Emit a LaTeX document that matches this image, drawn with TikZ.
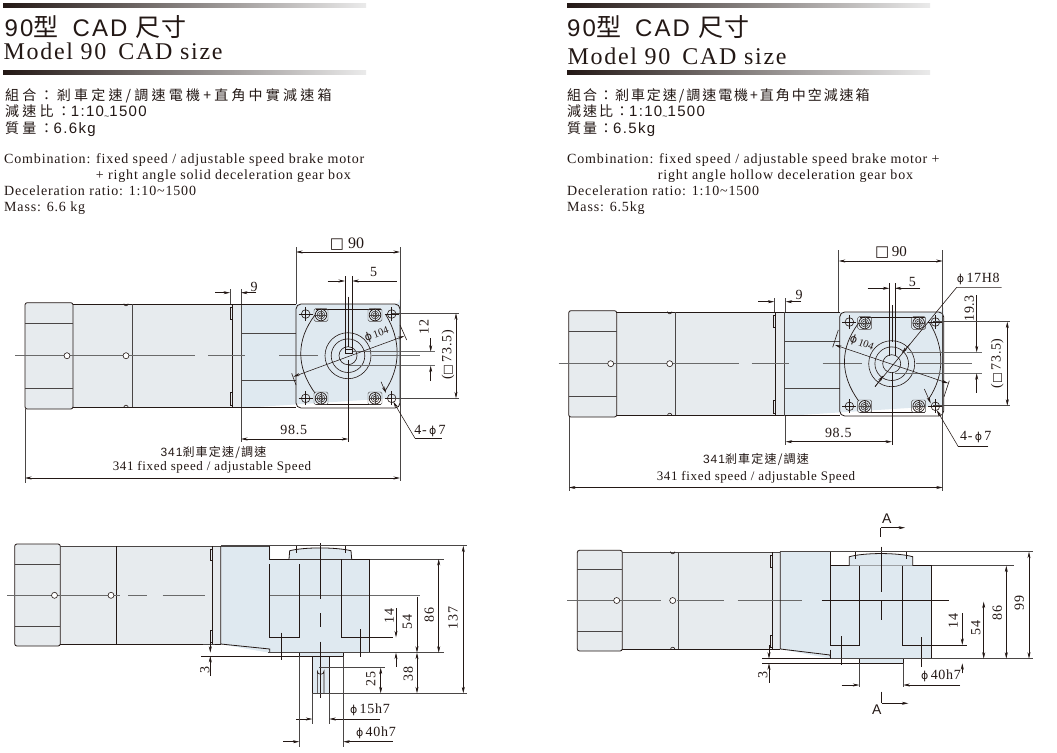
\documentclass[tikz,border=0pt]{standalone}
\usepackage{fontspec}
\usetikzlibrary{arrows.meta}
\setmainfont{Liberation Serif}
\newfontfamily\sansf{Liberation Sans}
\newfontfamily\cjkf{Noto Sans CJK TC}
\newfontfamily\symf{DejaVu Sans}
\definecolor{ink}{HTML}{231815}
\definecolor{motorfill}{HTML}{E7EBEE}
\definecolor{gearfill}{HTML}{DFE9F0}
\definecolor{cline}{HTML}{6A6A6A}
\definecolor{dline}{HTML}{4A4645}
\newcommand{\ph}{{\symf\fontsize{11}{11}\selectfont ϕ}}
\newcommand{\sq}{{\symf\fontsize{15}{15}\selectfont □}}
\newcommand{\sqs}{{\symf\fontsize{11.5}{11.5}\selectfont □}}
\newcommand{\dg}[1]{{\sansf\fontsize{15}{15}\selectfont\addfontfeature{LetterSpace=9}#1}}
\newcommand{\cjka}[2]{{\cjkf\fontsize{14}{14}\selectfont\addfontfeature{LetterSpace=#1}#2}}
\newcommand{\tildel}{\raisebox{-3pt}{\sansf\fontsize{9}{9}\selectfont\textasciitilde}}
\newcommand{\titleline}{{\sansf\addfontfeature{LetterSpace=9}90}{\cjkf\fontsize{25}{25}\selectfont 型}\hspace{14pt}{\sansf\addfontfeature{LetterSpace=9}CAD}\hspace{8pt}{\cjkf\fontsize{25}{25}\selectfont\addfontfeature{LetterSpace=5}尺寸}}
\tikzset{
  >={Stealth[length=6.5pt,width=3pt]},
  part/.style={draw=ink,line width=0.8pt},
  heavy/.style={draw=dline,line width=1pt},
  thinl/.style={draw=ink,line width=0.6pt},
  centerl/.style={draw=cline,line width=0.8pt},
  extl/.style={draw=dline,line width=0.55pt},
  dimb/.style={draw=ink,line width=0.55pt,<->},
  dims/.style={draw=ink,line width=0.55pt,->},
  dlab/.style={inner sep=0pt,text=ink,font=\fontsize{14}{14}\selectfont\addfontfeature{LetterSpace=5}},
  dlabv/.style={dlab,rotate=90},
  titlea/.style={anchor=base west,inner sep=0pt,text=ink,font=\fontsize{24}{24}\selectfont},
  titleb/.style={anchor=base west,inner sep=0pt,text=ink,font=\fontsize{24}{24}\selectfont\addfontfeature{LetterSpace=7}},
  cjkl/.style={anchor=base west,inner sep=0pt,text=ink},
  enl/.style={anchor=base west,inner sep=0pt,text=ink,font=\fontsize{14}{14}\selectfont\addfontfeature{LetterSpace=6}},
  dual/.style={inner sep=0pt,text=ink},
}
\newcommand{\hdrbar}[3]{\shade[left color=ink,middle color=black!50,right color=black!8] (#1,#2) rectangle (#3,#2+3.6);}
\newcommand{\holept}[2]{\draw[thinl] (#1,#2) circle[radius=4.3];
  \draw[thinl] (#1-7,#2)--(#1+7,#2) (#1,#2-7)--(#1,#2+7);}
\newcommand{\screwpt}[2]{\draw[extl,line width=0.45pt,rounded corners=1.5pt] (#1-7,#2-6.3) rectangle (#1+7,#2+6.3);
  \draw[thinl,line width=0.7pt] (#1,#2) circle[radius=5.8];
  \draw[thinl,line width=0.5pt] (#1,#2) circle[radius=3.9] (#1,#2) circle[radius=2.1];
  \draw[extl,line width=0.35pt] (#1-6,#2)--(#1+6,#2) (#1,#2-6)--(#1,#2+6);}
% the top view, drawn at the left panel's position
\newcommand{\topview}{
  \fill[motorfill] (73,304)--(232,304)--(232,407)--(73,407)--cycle;
  \fill[motorfill] (232,304) rectangle (241,408);
  \fill[gearfill] (241,304)--(395,304) arc[start angle=90,end angle=0,radius=5]--(400,403) arc[start angle=0,end angle=-90,radius=5]--(241,408)--cycle;
  \filldraw[part,fill=motorfill,rounded corners=2.2pt] (25,302.7) rectangle (73,409);
  \draw[heavy] (25,323)--(73,323) (25,388)--(73,388);
  \draw[part] (73,304)--(241,304) (73,407)--(241,407);
  \draw[heavy] (132,304)--(132,407);
  \draw[thinl] (126,303.6) ++(-2.2,0) arc[start angle=180,end angle=0,radius=2.2];
  \draw[thinl] (126,407.4) ++(-2.2,0) arc[start angle=-180,end angle=0,radius=2.2];
  \draw[part] (232,304)--(232,407);
  \draw[thinl,fill=motorfill] (230,307) rectangle (232,319) (230,392) rectangle (232,405);
  \draw[heavy] (241,304)--(241,408);
  \draw[part] (241,304)--(296,304) (241,407.6)--(296,407.6);
  \draw[heavy] (241,333)--(296,333) (241,380)--(296,380);
  \draw[centerl] (15,355.7)--(195,355.7) (208,355.7)--(245,355.7) (279,355.7)--(318,355.7);
  \draw[thinl,fill=white] (67,355.7) circle[radius=3];
  \draw[thinl,fill=white] (126,355.7) circle[radius=3];
  % rounded square
  \draw[part,rounded corners=5pt] (296,304) rectangle (400,408);
  % flange outline
  \draw[thinl] (316,309.5)--(381,309.5) (316,404)--(381,404);
  \draw[thinl,line width=0.7pt] (315,315) .. controls (296,340) and (296,367) .. (315,393);
  \draw[thinl,line width=0.7pt] (386,315) .. controls (401,340) and (401,367) .. (385,391);
  \holept{305.7}{314}\holept{391.7}{314}\holept{305.7}{398.3}\holept{391.7}{398.3}
  \screwpt{321}{315}\screwpt{375}{315}\screwpt{321}{398.3}\screwpt{375}{398.3}
  \draw[thinl] (348,355.7) circle[radius=23] (348,355.7) circle[radius=16.8];
  \draw[thinl] (348,355.7) circle[radius=9];
}
\newcommand{\motorsideA}{
  \fill[motorfill] (60,546) rectangle (221,644.5);
  \filldraw[part,fill=motorfill,rounded corners=2.2pt] (14.7,544) rectangle (60.3,646);
  \draw[heavy] (14.7,564)--(60.3,564) (14.7,626.7)--(60.3,626.7);
  \draw[heavy] (60,546)--(221,546);
  \draw[part] (60,644.5)--(221,644.5);
  \draw[part] (116.7,546)--(116.7,644.5);
  \draw[part] (212.3,546)--(212.3,644.5);
  \draw[thinl,fill=motorfill] (210.3,549) rectangle (212.3,560.5) (210.3,630) rectangle (212.3,642);
  \draw[centerl] (7.3,595.3)--(120,595.3) (128.3,595.3)--(147,595.3) (162.7,595.3)--(205.3,595.3) (226,595.3)--(420,595.3);
  \draw[thinl,fill=white] (54.5,595.3) circle[radius=3];
  \draw[thinl,fill=white] (111,595.3) circle[radius=3];
}
\begin{document}
\begin{tikzpicture}[x=1pt,y=-1pt]
\useasboundingbox (0,0) rectangle (1057,752);
\fill[white] (0,0) rectangle (1057,752);
%% ---------- headers ----------
\hdrbar{3}{4}{366}
\hdrbar{3}{70.5}{366}
\hdrbar{567}{4}{930}
\hdrbar{567}{70.5}{930}
\node[titlea] (ta) at (4.5,37) {\titleline};
\node[titleb] (tb) at (3.5,59.5) {Model 90\hspace{12pt}CAD size};
\node[titlea] (tc) at (567,37) {\titleline};
\node[titleb] (td) at (567.5,64) {Model 90\hspace{12pt}CAD size};
\node[cjkl] (l1) at (5,100.5) {\cjka{23}{組合：剎車定速/調速電機+直角中實減速箱}};
\node[cjkl] (l2) at (5,116.5) {\cjka{23}{減速比：}\dg{1:10}\tildel\dg{1500}};
\node[cjkl] (l3) at (5,133) {\cjka{23}{質量：}\dg{6.6kg}};
\node[enl] (e1) at (4,163.3) {Combination: fixed speed / adjustable speed brake motor};
\node[enl] (e2) at (95.7,179.3) {+ right angle solid deceleration gear box};
\node[enl] (e3) at (4,195.5) {Deceleration ratio: 1:10\textasciitilde1500};
\node[enl] (e4) at (4,211.5) {Mass: 6.6 kg};
\node[cjkl] (r1) at (567,100.5) {\cjka{14}{組合：剎車定速/調速電機+直角中空減速箱}};
\node[cjkl] (r2) at (567,116.5) {\cjka{14}{減速比：}\dg{1:10}\tildel\dg{1500}};
\node[cjkl] (r3) at (567,133) {\cjka{14}{質量：}\dg{6.5kg}};
\node[enl] (f1) at (567,163.3) {Combination: fixed speed / adjustable speed brake motor +};
\node[enl] (f2) at (657.7,179.3) {right angle hollow deceleration gear box};
\node[enl] (f3) at (567,195.5) {Deceleration ratio: 1:10\textasciitilde1500};
\node[enl] (f4) at (567,211.5) {Mass: 6.5kg};
%% ---------- left panel, top view ----------
\topview
\draw[centerl] (353,351.7)--(435,351.7) (348,365.7)--(435,365.7) (372,355.7)--(420,355.7);
\draw[thinl] (345,276)--(345,349) (352.3,276)--(352.3,349) (348.3,296.7)--(348.3,347);
\draw[thinl] (345,349) rectangle (352.3,353.5);
\draw[thinl] (348.3,360)--(348.3,441.7);
\draw[extl] (296,247)--(296,304) (400,247)--(400,481) (25,409)--(25,483) (241,408)--(241,441.7);
\draw[dimb] (296,252)--(400,252);
\node[dlab,font=\fontsize{16}{16}\selectfont] (a90) at (347,244) {\sq\ 90};
\draw[extl] (230,289)--(230,304) (241,289)--(241,304);
\draw[dims] (215,292.7)--(230,292.7);
\draw[dims] (256,292.7)--(241,292.7);
\node[dlab] (a9) at (254,286.5) {9};
\draw[dims] (327.7,281)--(345,281);
\draw[dims] (396.7,281)--(352.3,281);
\node[dlab] (a5) at (373.5,272) {5};
\draw[dims] (430.7,338)--(430.7,351.7);
\draw[dims] (430.7,381)--(430.7,365.7);
\node[dlabv] (a12) at (424,327) {12};
\draw[extl] (391.7,313.3)--(459,313.3) (391.7,398.3)--(459,398.3);
\draw[dimb] (456,313.3)--(456,398.3);
\node[dlabv] (a735) at (448,355) {(\sqs\,73.5)};
\draw[dimb] (241,439)--(348.3,439);
\node[dlab] (a985) at (293.7,430) {98.5};
\draw[dimb] (293.3,376.7)--(404.3,336);
\draw[thinl] (291.7,373.3)--(296,385) (400,325)--(406.7,340);
\node[inner sep=0pt,text=ink,rotate=20,font=\fontsize{10.5}{10.5}\selectfont] (a104) at (376.7,334) {\ph\,104};
\draw[dims] (381,381.7)--(386,393);
\draw[thinl] (441.7,438.3)--(415,438.3);
\draw[dims] (415,438.3)--(393.3,401.7);
\node[dlab] (a47) at (430,431) {4-\,\ph\,7};
\node[dual] (a341c) at (213.5,452) {{\sansf\fontsize{12}{12}\selectfont\addfontfeature{LetterSpace=8}341}{\cjkf\fontsize{12}{12}\selectfont\addfontfeature{LetterSpace=10}剎車定速/調速}};
\node[dual,font=\fontsize{13}{13}\selectfont\addfontfeature{LetterSpace=5}] (a341e) at (212,467.5) {341 fixed\hspace{4pt}speed / adjustable Speed};
\draw[dimb] (25,478)--(400,478);
%% ---------- right panel, top view ----------
\begin{scope}[shift={(543.7,8)}]
\topview
\end{scope}
\draw[thinl] (889.3,283.3)--(889.3,347.3) (894.8,283.3)--(894.8,347.3) (891.9,305)--(891.9,342);
\draw[thinl] (889.3,347.3)--(889.3,356) (894.8,347.3)--(894.8,356);
\draw[centerl] (906.7,352.3)--(981.7,352.3) (895,373.3)--(981.7,373.3) (916,363.7)--(971.7,363.7);
\draw[thinl] (891.9,372)--(891.9,445);
\draw[extl] (838.7,250)--(838.7,312) (942.7,250)--(942.7,490.7) (569,417)--(569,490.7) (785.7,416)--(785.7,445);
\draw[dimb] (838.7,261)--(942.7,261);
\node[dlab,font=\fontsize{15}{15}\selectfont] (b90) at (891,252.7) {\sq\,90};
\draw[extl] (774.3,298)--(774.3,312) (785.7,298)--(785.7,312);
\draw[dims] (758,301.7)--(774.3,301.7);
\draw[dims] (801,301.7)--(785.7,301.7);
\node[dlab] (b9) at (799,295) {9};
\draw[dims] (867.7,288.3)--(889.3,288.3);
\draw[dims] (920,288.3)--(894.8,288.3);
\node[dlab] (b5) at (912.3,281.5) {5};
\draw[thinl] (1001.7,287.3)--(956.7,287.3)--(875,386.7);
\draw[dims] (910,344)--(901.7,353.3);
\draw[dims] (875,386.7)--(883.3,375.5);
\node[dlab] (b17) at (978.3,279) {\ph\,17H8};
\draw[dims] (976.7,295)--(976.7,352.3);
\draw[dims] (976.7,392.7)--(976.7,373.3);
\node[dlabv] (b193) at (969.3,308.3) {19.3};
\draw[extl] (933.3,321.7)--(1010,321.7) (933.3,405.7)--(1010,405.7);
\draw[dimb] (1007.3,321.7)--(1007.3,405.7);
\node[dlabv] (b735) at (997.3,363.3) {(\sqs\,73.5)};
\draw[dimb] (785.7,441.7)--(891.9,441.7);
\node[dlab] (b985) at (838.3,433.3) {98.5};
\draw[dimb] (835,345)--(948.3,383.3);
\draw[thinl] (838.3,330)--(832.7,347.3) (949.3,380.7)--(944,396.7);
\node[inner sep=0pt,text=ink,rotate=-20,font=\fontsize{10.5}{10.5}\selectfont] (b104) at (861.7,343.3) {\ph\,104};
\draw[dims] (924.3,389)--(930.7,403.3);
\draw[thinl] (988.3,446.7)--(958.3,446.7);
\draw[dims] (958.3,446.7)--(936.7,410);
\node[dlab] (b47) at (975.7,437.3) {4-\,\ph\,7};
\node[dual] (b341c) at (756,459) {{\sansf\fontsize{12}{12}\selectfont\addfontfeature{LetterSpace=8}341}{\cjkf\fontsize{12}{12}\selectfont\addfontfeature{LetterSpace=10}剎車定速/調速}};
\node[dual,font=\fontsize{13}{13}\selectfont\addfontfeature{LetterSpace=5}] (b341e) at (756,477.5) {341 fixed\hspace{4pt}speed / adjustable Speed};
\draw[dimb] (569,487.5)--(942.7,487.5);
%% ---------- left panel, side view ----------
\filldraw[fill=gearfill,draw=none] (220.7,546)--(270,546)--(270,559)--(369.7,559)--(369.7,652.7)--(270,652.7)--(220.7,644)--cycle;
\motorsideA
\filldraw[fill=gearfill,draw=none] (220.7,546) rectangle (270,644);
\filldraw[fill=gearfill,draw=none] (220.7,644)--(270,650)--(270,652.7)--cycle;
\draw[part] (220.7,546)--(220.7,644)--(269.7,649)--(269.7,652.7);
\draw[heavy] (220.7,546)--(269.7,546);
\draw[part] (269.7,546)--(269.7,559)--(369.7,559)--(369.7,652.7);
\filldraw[part,fill=gearfill] (289,559)--(289.7,550.7) .. controls (305,547) and (335,547) .. (351,550.7)--(351.7,559);
\draw[thinl] (269.7,564)--(269.7,637.3)--(299.3,637.3)--(299.3,564);
\draw[thinl] (341.7,559)--(341.7,637.3)--(393,637.3);
\draw[thinl] (296.5,546)--(296.5,553) (345,546)--(345,553);
\fill[gearfill] (299.3,652.7) rectangle (343.3,656);
\fill[gearfill] (312.3,656) rectangle (329.3,693.3);
\draw[part] (299.3,652.7)--(299.3,656)--(343.3,656)--(343.3,652.7);
\draw[part] (312.3,656)--(312.3,693.3)--(329.3,693.3)--(329.3,656);
\draw[thinl] (317.3,693.3)--(317.3,671) arc[start angle=180,end angle=0,radius=3.35]--(324,693.3);
\draw[heavy] (268,652.7)--(444,652.7);
\draw[thinl] (201,656)--(299.3,656);
\draw[thinl] (320.7,543.3)--(320.7,599.3) (320.7,613)--(320.7,626.7) (320.7,641.7)--(320.7,698);
\draw[thinl] (281,632.7)--(281,660) (360.3,629)--(360.3,656.7);
\draw[extl] (203,644.5)--(215,644.5);
\draw[dims] (210.3,640)--(210.3,652.7);
\draw[dims] (210.3,676)--(210.3,656);
\node[dlabv] (c3) at (204.7,670) {3};
\draw[heavy,line width=0.8pt] (221,545.7)--(466.7,545.7);
\draw[extl] (312.3,693.3)--(466.7,693.3);
\draw[extl] (369.7,559)--(444,559);
\draw[dimb] (463.3,545.7)--(463.3,693.3);
\node[dlabv] (c137) at (453,618) {137};
\draw[dimb] (438.7,559)--(438.7,652.7);
\node[dlabv] (c86) at (429.3,615) {86};
\draw[dims] (417,596.7)--(417,652.7);
\node[dlabv] (c54) at (407.3,622) {54};
\draw[dimb] (417,652.7)--(417,693.3);
\node[dlabv] (c38) at (408.3,674) {38};
\draw[dims] (396,608)--(396,637.3);
\draw[dims] (396,666.7)--(396,652.7);
\node[dlabv] (c14) at (389.3,616) {14};
\draw[extl] (319,667.7)--(385,667.7);
\draw[dimb] (380.7,667.7)--(380.7,693.3);
\node[dlabv] (c25) at (370.7,679) {25};
\draw[extl] (312.3,693.3)--(312.3,724) (329.3,693.3)--(329.3,724);
\draw[dims] (296,719)--(312.3,719);
\draw[dims] (380,719)--(329.3,719);
\node[dlab] (c15) at (370,709.3) {\ph\,15h7};
\draw[extl] (299.3,656)--(299.3,747) (343.3,656)--(343.3,747);
\draw[dims] (283.3,741.7)--(299.3,741.7);
\draw[dims] (392.7,741.7)--(343.3,741.7);
\node[dlab] (c40) at (376,732.3) {\ph\,40h7};
%% ---------- right panel, side view ----------
\fill[motorfill] (622,552) rectangle (781,649);
\fill[gearfill] (780.3,551.7)--(830.7,551.7)--(830.7,565.7)--(931.7,565.7)--(931.7,658.7)--(830.7,658.7)--(780.3,649)--cycle;
\filldraw[part,fill=motorfill,rounded corners=2.2pt] (577.3,550.3) rectangle (622.3,651);
\draw[heavy] (577.3,569.7)--(622.3,569.7) (577.3,631)--(622.3,631);
\draw[heavy] (622.3,552)--(780.3,552);
\draw[part] (622.3,649)--(780.3,649);
\draw[heavy] (678,552)--(678,649);
\draw[thinl] (670.5,551.6) arc[start angle=180,end angle=0,radius=2.2];
\draw[thinl] (670.5,649.4) arc[start angle=-180,end angle=0,radius=2.2];
\draw[part] (772.5,552)--(772.5,649);
\draw[thinl,fill=motorfill] (770.5,555) rectangle (772.5,567) (770.5,635) rectangle (772.5,647);
\draw[centerl] (567.3,600.5)--(661,600.5) (677,600.5)--(724,600.5) (737.7,600.5)--(801.7,600.5);
\draw[centerl,draw=ink,line width=0.6pt] (821.7,600.5)--(949.3,600.5);
\draw[thinl,fill=white] (616.7,600.5) circle[radius=3];
\draw[thinl,fill=white] (672.7,600.5) circle[radius=3];
\draw[part] (780.3,551.7)--(780.3,649)--(830,655)--(830.7,658.7);
\draw[part] (830.7,649.5)--(830.7,658.7);
\draw[heavy] (780.3,551.7)--(830.7,551.7);
\draw[part] (830.7,551.7)--(830.7,565.7)--(931.7,565.7)--(931.7,658.7);
\filldraw[part,fill=gearfill] (849.3,565.7)--(849.3,556.7) .. controls (865,552.5) and (897,552.5) .. (912.7,556.7)--(912.7,565.7);
\draw[thinl] (830.7,565.7)--(830.7,645)--(859.3,645)--(859.3,565.7);
\draw[thinl] (902.7,565.7)--(902.7,645)--(966.7,645);
\draw[thinl] (855.5,552)--(855.5,559) (906.5,552)--(906.5,559);
\filldraw[part,fill=gearfill] (859.3,658.7) rectangle (903.3,663.3);
\draw[extl] (859.3,663.3)--(859.3,687.3) (903.3,663.3)--(903.3,687.3);
\draw[thinl] (762.3,658.7)--(830.7,658.7) (762.3,663.3)--(859.3,663.3);
\draw[thinl] (881.3,546.7)--(881.3,591.7) (881.3,600.7)--(881.3,620);
\draw[thinl] (841.3,636)--(841.3,665) (921.7,637.3)--(921.7,666.7);
\draw[dims] (841.7,685)--(859.3,685);
\draw[dims] (960,685)--(903.3,685);
\node[dlab] (d40) at (941,675.7) {\ph\,40h7};
\draw[heavy,line width=0.8pt] (781,551.7)--(1033,551.7);
\draw[heavy,line width=0.8pt] (831,658.7)--(1033,658.7);
\draw[extl] (931.7,565.7)--(1014,565.7);
\draw[dimb] (1029,551.7)--(1029,658.7);
\node[dlabv] (d99) at (1019.3,603.3) {99};
\draw[dimb] (1006.3,565.7)--(1006.3,658.7);
\node[dlabv] (d86) at (997.3,612.7) {86};
\draw[dimb] (983.7,601.7)--(983.7,658.7);
\node[dlabv] (d54) at (975.7,628.3) {54};
\draw[dims] (962.3,613.3)--(962.3,645);
\draw[dims] (962.3,673.3)--(962.3,663.3);
\node[dlabv] (d14) at (953.3,620.7) {14};
\draw[dims] (769,645)--(769,658.7);
\draw[dims] (769,682.7)--(769,663.3);
\node[dlabv] (d3) at (762.7,675) {3};
\draw[thinl] (880.7,536.7)--(880.7,527.7);
\draw[dims] (880.7,527.7)--(905,527.7);
\node[dual,font=\sansf\fontsize{14}{14}\selectfont] (da1) at (886.7,518.3) {A};
\draw[thinl] (881.7,691.7)--(881.7,703.3);
\draw[dims] (881.7,703.3)--(908.3,703.3);
\node[dual,font=\sansf\fontsize{14}{14}\selectfont] (da2) at (876.7,709.3) {A};
\end{tikzpicture}
\end{document}
